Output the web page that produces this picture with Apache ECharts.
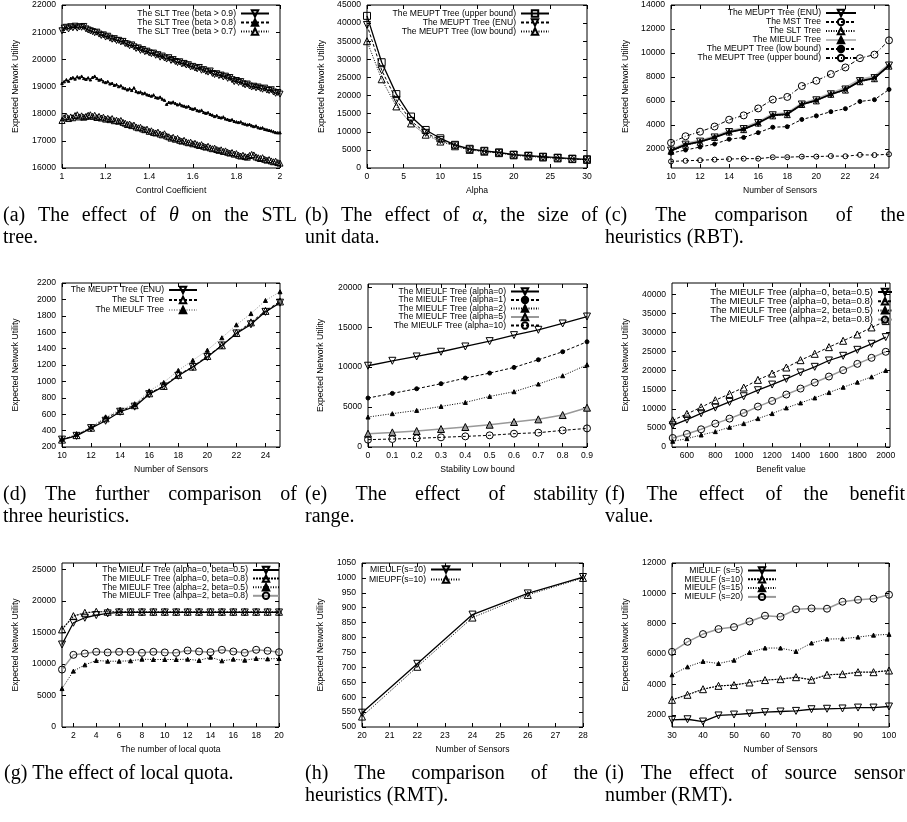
<!DOCTYPE html>
<html><head><meta charset="utf-8">
<script src="https://cdn.jsdelivr.net/npm/echarts@6/dist/echarts.min.js"></script>
<style>html,body{margin:0;padding:0;background:#fff}#c{width:907px;height:822px}</style>
</head><body><div id="c"></div>
<script>
// ---------------- DATA ----------------
// (a)
const aX = [1.00,1.01,1.02,1.03,1.04,1.05,1.06,1.07,1.08,1.09,1.10,1.11,1.12,1.13,1.14,1.15,1.16,1.17,1.18,1.19,1.20,1.21,1.22,1.23,1.24,1.25,1.26,1.27,1.28,1.29,1.30,1.31,1.32,1.33,1.34,1.35,1.36,1.37,1.38,1.39,1.40,1.41,1.42,1.43,1.44,1.45,1.46,1.47,1.48,1.49,1.50,1.51,1.52,1.53,1.54,1.55,1.56,1.57,1.58,1.59,1.60,1.61,1.62,1.63,1.64,1.65,1.66,1.67,1.68,1.69,1.70,1.71,1.72,1.73,1.74,1.75,1.76,1.77,1.78,1.79,1.80,1.81,1.82,1.83,1.84,1.85,1.86,1.87,1.88,1.89,1.90,1.91,1.92,1.93,1.94,1.95,1.96,1.97,1.98,1.99,2.00];
const aBeta09 = [21050,21150,21180,21120,21200,21160,21220,21150,21200,21180,21210,21120,21080,21050,21020,20980,21000,20930,20880,20900,20820,20850,20780,20740,20760,20690,20700,20640,20660,20580,20560,20500,20530,20460,20400,20420,20330,20360,20280,20300,20240,20210,20230,20150,20170,20080,20120,20050,20010,20060,19960,19990,19920,19880,19910,19830,19850,19790,19800,19720,19740,19680,19650,19700,19600,19620,19560,19530,19570,19480,19440,19470,19400,19420,19350,19380,19300,19330,19250,19180,19220,19150,19180,19100,19060,19090,19020,18980,19010,18950,18980,18930,18900,18940,18870,18850,18880,18800,18750,18780,18720];
const aBeta08 = [19120,19180,19250,19200,19300,19330,19280,19360,19320,19380,19300,19270,19320,19250,19340,19380,19300,19240,19260,19180,19150,19180,19100,19120,19050,19070,19000,19030,18950,18930,18880,18920,18860,18950,18820,18780,18800,18740,18760,18700,18680,18650,18690,18600,18580,18610,18540,18500,18350,18420,18400,18430,18380,18330,18360,18300,18280,18250,18270,18200,18170,18190,18120,18100,18130,18050,18020,18040,17980,17950,17900,17930,17870,17850,17880,17810,17790,17760,17780,17720,17700,17680,17700,17640,17620,17590,17610,17560,17530,17550,17490,17470,17480,17430,17410,17390,17370,17340,17310,17300,17300];
const aBeta07 = [17750,17850,17900,17820,17880,17850,17930,17960,17880,17920,17870,17900,17940,17960,17900,17940,17860,17900,17840,17870,17800,17830,17780,17820,17740,17760,17720,17750,17680,17650,17600,17620,17560,17580,17510,17480,17500,17440,17410,17430,17350,17370,17310,17290,17320,17250,17220,17260,17180,17150,17100,17130,17060,17090,17020,16990,17020,16960,16930,16950,16890,16910,16860,16830,16860,16800,16770,16800,16740,16710,16730,16680,16650,16670,16610,16630,16580,16550,16570,16510,16530,16470,16440,16470,16420,16400,16460,16500,16480,16410,16380,16350,16380,16320,16290,16310,16260,16230,16250,16200,16180];
const aXTicks = [1,1.2,1.4,1.6,1.8,2];
const aYTicks = [16000,17000,18000,19000,20000,21000,22000];

// (b)
const bX = [0,2,4,6,8,10,12,14,16,18,20,22,24,26,28,30];
const bUpper = [42000,29200,20400,14200,10500,8200,6400,5300,4750,4300,3680,3400,3120,2850,2570,2390];
const bENU   = [39500,27000,18800,13000,9700,7700,6200,5100,4600,4200,3600,3300,3000,2750,2500,2300];
const bLow   = [35000,24500,17000,12300,9200,7300,6000,5000,4500,4100,3500,3200,2900,2650,2450,2250];
const bXTicks = [0,5,10,15,20,25,30];
const bYTicks = [0,5000,10000,15000,20000,25000,30000,35000,40000,45000];

// (c)
const cX = [10,11,12,13,14,15,16,17,18,19,20,21,22,23,24,25];
const cENU    = [1850,2350,2600,2950,3400,3650,4150,4800,4900,5700,6050,6550,6950,7650,7900,8950];
const cMST    = [950,1000,1050,1100,1150,1180,1180,1300,1300,1350,1350,1400,1380,1500,1480,1550];
const cSLT    = [1800,2300,2550,2950,3400,3600,4150,4750,4850,5700,6000,6550,6900,7600,7850,8900];
const cMIEULF = [1900,2400,2650,3000,3450,3700,4200,4850,4950,5750,6100,6600,7050,7750,8000,9000];
const cLow    = [1640,1900,2150,2400,2800,2950,3350,3800,3850,4450,4750,5100,5350,5950,6100,6950];
const cUpper  = [2500,3050,3430,3860,4430,4790,5370,6110,6330,7240,7680,8240,8790,9560,9860,11050];
const cXTicks = [10,12,14,16,18,20,22,24];
const cYTicks = [2000,4000,6000,8000,10000,12000,14000];

// (d)
const dX = [10,11,12,13,14,15,16,17,18,19,20,21,22,23,24,25];
const dENU    = [290,336,430,520,630,692,844,938,1069,1175,1298,1438,1585,1696,1848,1960];
const dSLT    = [290,345,435,550,640,710,855,945,1080,1180,1310,1440,1590,1720,1860,1975];
const dMIEULF = [295,355,445,565,655,720,885,987,1134,1257,1380,1532,1690,1827,1987,2093];
const dXTicks = [10,12,14,16,18,20,22,24];
const dYTicks = [200,400,600,800,1000,1200,1400,1600,1800,2000,2200];

// (e)
const eX = [0,0.1,0.2,0.3,0.4,0.5,0.6,0.7,0.8,0.9];
const eA0  = [10170,10790,11330,11920,12580,13250,14000,14670,15460,16330];
const eA1  = [6130,6710,7290,7920,8630,9250,9960,10920,11920,13170];
const eA2  = [3750,4170,4580,5080,5580,6330,6920,7880,8920,10290];
const eA5  = [1670,1830,2000,2250,2500,2790,3130,3460,4000,4920];
const eA10 = [920,1000,1080,1210,1330,1460,1670,1790,2080,2330];
const eXTicks = [0,0.1,0.2,0.3,0.4,0.5,0.6,0.7,0.8,0.9];
const eYTicks = [0,5000,10000,15000,20000];

// (f)
const fX = [500,600,700,800,900,1000,1100,1200,1300,1400,1500,1600,1700,1800,1900,2000];
const fA0B05 = [5690,7180,8840,10330,11820,13310,14890,16370,17860,19530,21020,22680,23910,25480,27060,28810];
const fA0B08 = [7000,8670,10420,12260,13920,15590,17600,19260,20840,22770,24430,26180,27850,29510,31350,33010];
const fA2B05 = [1490,2190,3150,4030,5170,6130,7440,8760,10250,11560,12870,14270,15670,16990,18390,20050];
const fA2B08 = [2360,3420,4640,6130,7440,8930,10600,12080,13750,15320,16900,18480,20140,21800,23380,24960];
const fXTicks = [600,800,1000,1200,1400,1600,1800,2000];
const fYTicks = [0,5000,10000,15000,20000,25000,30000,35000,40000];

// (g)
const gX = [1,2,3,4,5,6,7,8,9,10,11,12,13,14,15,16,17,18,19,20];
const gA0B05 = [13080,16530,17320,17740,18010,18160,18160,18160,18160,18160,18160,18160,18160,18160,18160,18160,18160,18160,18160,18160];
const gA0B08 = [15470,17580,18110,18270,18270,18270,18270,18270,18270,18270,18270,18270,18270,18270,18270,18270,18270,18270,18270,18270];
const gA2B05 = [6090,8860,9850,10540,10430,10430,10490,10750,10700,10700,10700,10750,10540,11070,10490,10750,10590,10860,10800,10860];
const gA2B08 = [9110,11440,11650,11920,11820,11920,11920,11760,11920,11820,11760,12130,11970,11860,12240,11970,11760,12240,12080,11860];
const gXTicks = [2,4,6,8,10,12,14,16,18,20];
const gYTicks = [0,5000,10000,15000,20000,25000];

// (h)
const hX = [20,22,24,26,28];
const hMIEULF = [548,712,877,948,1003];
const hMIEUPF = [535,702,867,943,1000];
const hXTicks = [20,21,22,23,24,25,26,27,28];
const hYTicks = [500,550,600,650,700,750,800,850,900,950,1000,1050];

// (i)
const iX = [30,35,40,45,50,55,60,65,70,75,80,85,90,95,100];
const iS5  = [1670,1710,1560,1960,2020,2090,2180,2220,2260,2370,2400,2420,2480,2480,2550];
const iS10 = [2990,3320,3690,3910,3960,4130,4290,4350,4480,4310,4640,4680,4810,4810,4920];
const iS15 = [4640,5160,5520,5380,5600,6110,6400,6400,6180,6730,6990,7010,7120,7250,7300];
const iS20 = [6150,6810,7320,7650,7780,8150,8530,8460,8950,9010,8990,9450,9580,9650,9910];
const iXTicks = [30,40,50,60,70,80,90,100];
const iYTicks = [2000,4000,6000,8000,10000,12000];

// ---------------- STYLES ----------------
const FONT = 'Liberation Sans';
const FS = 8.6;
const DOWN = 'path://M0,0L10,0L5,9Z';
const CLEAR = 'rgba(255,255,255,0)';
const LINES = {
  solid:  {color:'#000', width:1.3, type:'solid'},
  solidB: {color:'#000', width:1.8, type:'solid'},
  dashed: {color:'#000', width:1, type:[3,2]},
  dotted: {color:'#000', width:1, type:[1,1.5]},
  dotted2:{color:'#000', width:1.2, type:[2,1]},
  dashdot:{color:'#000', width:1, type:[4,2,1,2]},
  gray:   {color:'#999', width:1.5, type:'solid'},
  grayB:  {color:'#bbb', width:3, type:'solid'},
  grayDot:{color:'#999', width:1, type:[1,1.5]}
};
const SYMS = {
  downO: {symbol:DOWN, size:7, fill:CLEAR, border:'#000'},
  downOs:{symbol:DOWN, size:6, fill:CLEAR, border:'#000'},
  upO:   {symbol:'triangle', size:7, fill:CLEAR, border:'#000'},
  upOs:  {symbol:'triangle', size:6, fill:CLEAR, border:'#000'},
  upF:   {symbol:'triangle', size:4, fill:'#000', border:'#000'},
  upFs:  {symbol:'triangle', size:2.5, fill:'#000', border:'#000'},
  upG:   {symbol:'triangle', size:7, fill:'#999', border:'#000'},
  sqO:   {symbol:'rect', size:7, fill:CLEAR, border:'#000'},
  cirO:  {symbol:'circle', size:7, fill:CLEAR, border:'#000'},
  cirOs: {symbol:'circle', size:5, fill:CLEAR, border:'#000'},
  cirF:  {symbol:'circle', size:4, fill:'#000', border:'#000'}
};

// ---------------- PANELS ----------------
const panels = [
  {l:62, t:5, w:218, h:163, xr:[1,2], yr:[16000,22000], xt:aXTicks, yt:aYTicks, xn:'Control Coefficient', yGap:42,
   leg:{right:637, top:9, w:28, gap:0},
   s:[['The SLT Tree (beta > 0.9)', aX, aBeta09, 'solid', 'downOs'],
      ['The SLT Tree (beta > 0.8)', aX, aBeta08, 'dashed', 'upFs'],
      ['The SLT Tree (beta > 0.7)', aX, aBeta07, 'dotted', 'upOs']]},
  {l:367, t:5, w:220, h:163, xr:[0,30], yr:[0,45000], xt:bXTicks, yt:bYTicks, xn:'Alpha', yGap:41,
   leg:{right:357, top:9, w:28, gap:0},
   s:[['The MEUPT Tree (upper bound)', bX, bUpper, 'solid', 'sqO'],
      ['The MEUPT Tree (ENU)', bX, bENU, 'dashed', 'downO'],
      ['The MEUPT Tree (low bound)', bX, bLow, 'dotted', 'upO']]},
  {l:671, t:5, w:218, h:163, xr:[10,25], yr:[400,14000], xt:cXTicks, yt:cYTicks, xn:'Number of Sensors', yGap:41,
   leg:{right:50, top:8.5, w:30, gap:0},
   order:[3,0,1,2,4,5],
   s:[['The MEUPT Tree (ENU)', cX, cENU, 'solidB', 'downO'],
      ['The MST Tree', cX, cMST, 'dashed', 'cirOs'],
      ['The SLT Tree', cX, cSLT, 'dotted', 'upOs'],
      ['The MIEULF Tree', cX, cMIEULF, 'grayB', 'upF'],
      ['The MEUPT Tree (low bound)', cX, cLow, 'dashed', 'cirF'],
      ['The MEUPT Tree (upper bound)', cX, cUpper, 'dashdot', 'cirO']]},
  {l:62, t:283, w:218, h:164, xr:[10,25], yr:[200,2200], xt:dXTicks, yt:dYTicks, xn:'Number of Sensors', yGap:42,
   leg:{right:709, top:285.5, w:28, gap:1},
   order:[2,1,0],
   s:[['The MEUPT Tree (ENU)', dX, dENU, 'solid', 'downO'],
      ['The SLT Tree', dX, dSLT, 'dashed', 'upO'],
      ['The MIEULF Tree', dX, dMIEULF, 'grayDot', 'upF']]},
  {l:368, t:284, w:219, h:163, xr:[0,0.9], yr:[0,20400], xt:eXTicks, yt:eYTicks, xn:'Stability Low bound', yGap:43,
   leg:{right:367, top:287, w:28, gap:-0.5},
   s:[['The MIEULF Tree (alpha=0)', eX, eA0, 'solid', 'downO'],
      ['The MIEULF Tree (alpha=1)', eX, eA1, 'dashed', 'cirF'],
      ['The MIEULF Tree (alpha=2)', eX, eA2, 'dotted', 'upF'],
      ['The MIEULF Tree (alpha=5)', eX, eA5, 'gray', 'upG'],
      ['The MIEULF Tree (alpha=10)', eX, eA10, 'dashed', 'cirO']]},
  {l:672, t:283, w:218, h:164, xr:[495,2030], yr:[0,43000], xt:fXTicks, yt:fYTicks, xn:'Benefit value', yGap:42,
   leg:{right:14, top:287, w:14, gap:-0.8, fs:9.6},
   s:[['The MIEULF Tree (alpha=0, beta=0.5)', fX, fA0B05, 'solid', 'downO'],
      ['The MIEULF Tree (alpha=0, beta=0.8)', fX, fA0B08, 'dashed', 'upO'],
      ['The MIEULF Tree (alpha=2, beta=0.5)', fX, fA2B05, 'dotted', 'upF'],
      ['The MIEULF Tree (alhpa=2, beta=0.8)', fX, fA2B08, 'gray', 'cirO']]},
  {l:62, t:563, w:217, h:164, xr:[1,20], yr:[0,26000], xt:gXTicks, yt:gYTicks, xn:'The number of local quota', yGap:42,
   leg:{right:627, top:565.5, w:26, gap:-0.4},
   s:[['The MIEULF Tree (alpha=0, beta=0.5)', gX, gA0B05, 'solid', 'downO'],
      ['The MIEULF Tree (alpha=0, beta=0.8)', gX, gA0B08, 'dotted2', 'upO'],
      ['The MIEULF Tree (alpha=2, beta=0.5)', gX, gA2B05, 'dotted', 'upF'],
      ['The MIEULF Tree (alhpa=2, beta=0.8)', gX, gA2B08, 'gray', 'cirO']]},
  {l:362, t:563, w:221, h:164, xr:[20,28], yr:[500,1050], xt:hXTicks, yt:hYTicks, xn:'Number of Sensors', yGap:37,
   leg:{right:445, top:565, w:30, gap:1},
   s:[['MIEULF(s=10)', hX, hMIEULF, 'solid', 'downO'],
      ['MIEUPF(s=10)', hX, hMIEUPF, 'dotted', 'upO']]},
  {l:672, t:563, w:217, h:164, xr:[30,100], yr:[1200,12000], xt:iXTicks, yt:iYTicks, xn:'Number of Sensors', yGap:42,
   leg:{right:130, top:566, w:28, gap:-0.2},
   s:[['MIEULF (s=5)', iX, iS5, 'solid', 'downO'],
      ['MIEULF (s=10)', iX, iS10, 'dotted2', 'upO'],
      ['MIEULF (s=15)', iX, iS15, 'dotted', 'upF'],
      ['MIEULF (s=20)', iX, iS20, 'gray', 'cirO']]}
];

// ---------------- CAPTIONS ----------------
const captions = [
  {x0:3, x1:297, y:216, lines:[['(a)','The','effect','of','*θ*','on','the','STL'],['tree.']]},
  {x0:305, x1:598, y:216, lines:[['(b)','The','effect','of','*α*,','the','size','of'],['unit','data.']]},
  {x0:605, x1:905, y:216, lines:[['(c)','The','comparison','of','the'],['heuristics','(RBT).']]},
  {x0:3, x1:297, y:495, lines:[['(d)','The','further','comparison','of'],['three','heuristics.']]},
  {x0:305, x1:598, y:495, lines:[['(e)','The','effect','of','stability'],['range.']]},
  {x0:605, x1:905, y:495, lines:[['(f)','The','effect','of','the','benefit'],['value.']]},
  {x0:4, x1:297, y:774, lines:[['(g)','The','effect','of','local','quota.']]},
  {x0:305, x1:598, y:774, lines:[['(h)','The','comparison','of','the'],['heuristics','(RMT).']]},
  {x0:605, x1:905, y:774, lines:[['(i)','The','effect','of','source','sensor'],['number','(RMT).']]}
];
const CFS = 20, CLH = 22, CFONT = 'Liberation Serif';

// ---------------- BUILD ----------------
const option = {animation:false, backgroundColor:'#fff', grid:[], xAxis:[], yAxis:[], legend:[], series:[], graphic:[]};
const lbl = {fontFamily:FONT, fontSize:FS, color:'#000'};
const fmt = v => String(+v.toFixed(6));

panels.forEach((p, k) => {
  option.grid.push({left:p.l, top:p.t, width:p.w, height:p.h, show:true, borderColor:'#000', borderWidth:1,
    backgroundColor:'rgba(0,0,0,0)', containLabel:false, outerBoundsMode:'none'});
  const tick = vals => ({show:true, inside:true, length:4, lineStyle:{color:'#000', width:1}, customValues:vals});
  const base = {type:'value', gridIndex:k, splitLine:{show:false}, axisLine:{show:false, onZero:false}};
  option.xAxis.push(Object.assign({}, base, {position:'bottom', min:p.xr[0], max:p.xr[1],
    axisTick:tick(p.xt), axisLabel:Object.assign({customValues:p.xt, margin:4, formatter:fmt, showMinLabel:true, showMaxLabel:true}, lbl),
    name:p.xn, nameLocation:'middle', nameGap:18.5, nameTextStyle:lbl}));
  option.xAxis.push(Object.assign({}, base, {position:'top', min:p.xr[0], max:p.xr[1],
    axisTick:tick(p.xt), axisLabel:{show:false}}));
  option.yAxis.push(Object.assign({}, base, {position:'left', min:p.yr[0], max:p.yr[1],
    axisTick:tick(p.yt), axisLabel:Object.assign({customValues:p.yt, margin:6, formatter:fmt, showMinLabel:true, showMaxLabel:true}, lbl),
    name:'Expected Network Utility', nameLocation:'middle', nameGap:p.yGap, nameTextStyle:lbl}));
  option.yAxis.push(Object.assign({}, base, {position:'right', min:p.yr[0], max:p.yr[1],
    axisTick:tick(p.yt), axisLabel:{show:false}}));

  const suffix = '#' + k;
  const order = p.order || p.s.map((_, i) => i);
  order.forEach(i => {
    const [name, xs, ys, ls, sy] = p.s[i];
    const L = LINES[ls], S = SYMS[sy];
    option.series.push({
      type:'line', name:name + suffix, xAxisIndex:2*k, yAxisIndex:2*k,
      data: xs.map((x, j) => [x, ys[j]]),
      symbol:S.symbol, symbolSize:S.size, showSymbol:true, showAllSymbol:true,
      lineStyle:Object.assign({}, L),
      itemStyle:{color:S.fill, borderColor:S.border, borderWidth:1},
      emphasis:{disabled:true}, silent:true, z:2
    });
  });
  option.legend.push({
    data:p.s.map(s => s[0] + suffix), orient:'vertical', align:'right',
    right:p.leg.right, top:p.leg.top, itemWidth:p.leg.w, itemHeight:8, itemGap:p.leg.gap,
    padding:0, selectedMode:false,
    formatter:n => n.split('#')[0],
    textStyle:{fontFamily:FONT, fontSize:p.leg.fs || FS, color:'#000', lineHeight:8}
  });
});

// captions with justification
const ctx = document.createElement('canvas').getContext('2d');
function parts(word) {
  const out = []; const seg = word.split('*');
  seg.forEach((s, i) => { if (s) out.push({t:s, it: i % 2 === 1}); });
  return out;
}
function fontStr(it) { return (it ? 'italic ' : '') + CFS + 'px "' + CFONT + '"'; }
function wWidth(ps) { return ps.reduce((a, p) => { ctx.font = fontStr(p.it); return a + ctx.measureText(p.t).width; }, 0); }
ctx.font = fontStr(false);
const SPACE = ctx.measureText(' ').width;
captions.forEach(c => {
  c.lines.forEach((words, li) => {
    const y = c.y + li * CLH;
    const ps = words.map(parts);
    const widths = ps.map(wWidth);
    const last = li === c.lines.length - 1;
    let gap = SPACE;
    if (!last && words.length > 1) {
      const total = widths.reduce((a, b) => a + b, 0);
      gap = (c.x1 - c.x0 - total) / (words.length - 1);
    }
    let x = c.x0;
    ps.forEach((wp) => {
      wp.forEach(p => {
        ctx.font = fontStr(p.it);
        option.graphic.push({type:'text', x:x, y:y, silent:true,
          style:{text:p.t, fontFamily:CFONT, fontSize:CFS, fontStyle:p.it ? 'italic' : 'normal',
                 fill:'#000', textAlign:'left', verticalAlign:'middle'}});
        x += ctx.measureText(p.t).width;
      });
      x += gap;
    });
  });
});

const chart = echarts.init(document.getElementById('c'), null, {renderer:'canvas'});
chart.setOption(option);
</script>
</body></html>
